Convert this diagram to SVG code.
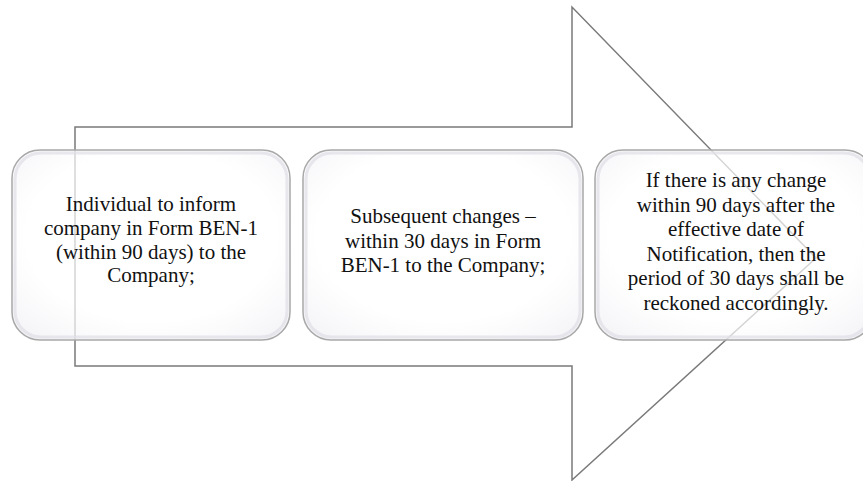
<svg xmlns="http://www.w3.org/2000/svg" width="863" height="481" viewBox="0 0 863 481">
<style>
.arrow{fill:none;stroke:#7a7a7a;stroke-width:1.5;stroke-linejoin:miter}
.box{fill:url(#gloss);stroke:#a8a8a8;stroke-width:1.5}
.inner{fill:none;stroke:#dedee6;stroke-width:3;stroke-opacity:0.7}
.t{font-family:"Liberation Serif","Times New Roman",serif;font-size:21px;fill:#111;text-anchor:middle}
</style>
<defs>
<radialGradient id="gloss" cx="0.5" cy="0.45" r="0.75">
<stop offset="0.6" stop-color="#ffffff" stop-opacity="0.68"/>
<stop offset="0.9" stop-color="#f2f2f6" stop-opacity="0.75"/>
<stop offset="1" stop-color="#dcdce4" stop-opacity="0.85"/>
</radialGradient>
</defs>
<rect width="863" height="481" fill="#ffffff"/>
<g id="connectors">
<path class="arrow" d="M75,127 L572,127 L572,7 L816,258 L572,480 L572,366 L75,366 Z"/>
</g>
<g id="node1">
<rect class="box" x="12" y="150" width="278" height="190" rx="28"/>
<rect class="inner" x="15" y="153" width="272" height="184" rx="26"/>
<text class="t" x="151" y="211">Individual to inform</text>
<text class="t" x="151" y="235">company in Form BEN-1</text>
<text class="t" x="151" y="258.5">(within 90 days) to the</text>
<text class="t" x="151" y="282">Company;</text>
</g>
<g id="node2">
<rect class="box" x="303" y="150" width="280" height="190" rx="28"/>
<rect class="inner" x="306" y="153" width="274" height="184" rx="26"/>
<text class="t" x="443" y="223">Subsequent changes –</text>
<text class="t" x="443" y="247.5">within 30 days in Form</text>
<text class="t" x="443" y="272">BEN-1 to the Company;</text>
</g>
<g id="node3">
<rect class="box" x="595" y="150" width="278" height="190" rx="28"/>
<rect class="inner" x="598" y="153" width="272" height="184" rx="26"/>
<text class="t" x="736" y="187">If there  is any change</text>
<text class="t" x="736" y="211.5">within 90 days after  the</text>
<text class="t" x="736" y="236">effective date  of</text>
<text class="t" x="736" y="260.5">Notification, then  the</text>
<text class="t" x="736" y="285">period of 30 days shall be</text>
<text class="t" x="736" y="309.5">reckoned  accordingly.</text>
</g>
</svg>
